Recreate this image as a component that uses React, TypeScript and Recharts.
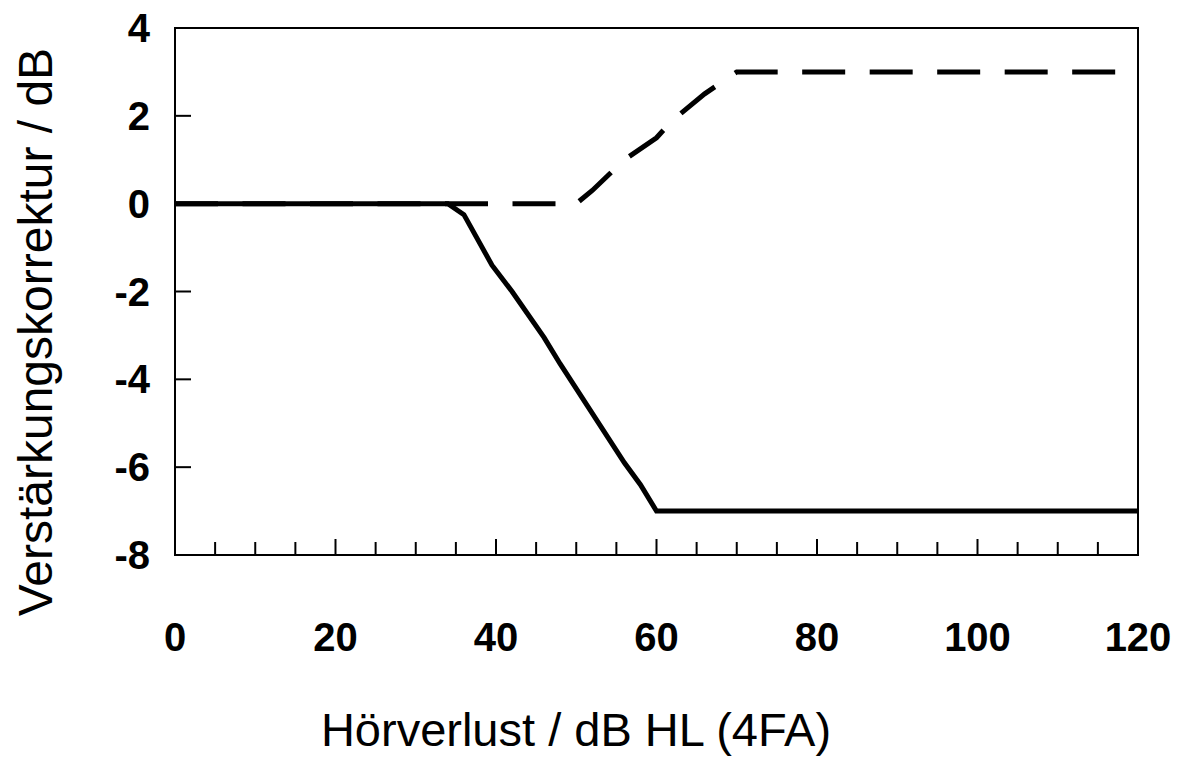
import React from 'react';
import { LineChart, Line, XAxis, YAxis, ReferenceArea, Label } from 'recharts';

// Solid curve (Verstärkungskorrektur, negative branch)
const solidX = [0, 34, 36, 39.5, 42, 46, 48, 56, 58, 60, 120];
const solidY = [0, 0, -0.25, -1.4, -2.0, -3.05, -3.65, -5.9, -6.4, -7, -7];

// Dashed curve (positive branch)
const dashedX = [0, 50, 52, 56, 60, 62, 66, 70, 120];
const dashedY = [0, 0, 0.3, 1.0, 1.5, 1.9, 2.5, 3, 3];

const xTicks = [0, 5, 10, 15, 20, 25, 30, 35, 40, 45, 50, 55, 60, 65, 70, 75, 80, 85, 90, 95, 100, 105, 110, 115, 120];
const xLabelTicks = [0, 20, 40, 60, 80, 100, 120];
const yTicks = [-8, -6, -4, -2, 0, 2, 4];

const xTitle = 'Hörverlust / dB HL (4FA)';
const yTitle = 'Verstärkungskorrektur / dB';

const solidData = solidX.map((x, i) => ({ x, y: solidY[i] }));
const dashedData = dashedX.map((x, i) => ({ x, y: dashedY[i] }));

const FONT = '"Liberation Sans", Arial, Helvetica, sans-serif';

const XTick = (props: any) => {
  const { x, y, payload } = props;
  const v = payload.value;
  const major = xLabelTicks.includes(v);
  return (
    <g>
      <line x1={x} x2={x} y1={y} y2={y - (major ? 16 : 13)} stroke="#000" strokeWidth={2} />
      {major && (
        <text x={x} y={y + 96} textAnchor="middle" fontSize={40} fontWeight="bold" fontFamily={FONT} fill="#000">
          {v}
        </text>
      )}
    </g>
  );
};

const YTick = (props: any) => {
  const { x, y, payload } = props;
  return (
    <g>
      <line x1={x} x2={x + 16} y1={y} y2={y} stroke="#000" strokeWidth={2} />
      <text x={x - 25} y={y + 14} textAnchor="end" fontSize={40} fontWeight="bold" fontFamily={FONT} fill="#000">
        {payload.value}
      </text>
    </g>
  );
};

const renderXTitle = () => (
  <text x={576} y={746} textAnchor="middle" fontSize={47} fontFamily={FONT} fill="#000">
    {xTitle}
  </text>
);

const renderYTitle = () => (
  <text
    x={52}
    y={332}
    textAnchor="middle"
    fontSize={48}
    fontFamily={FONT}
    fill="#000"
    transform="rotate(-90, 52, 332)"
  >
    {yTitle}
  </text>
);

export default function App() {
  return (
    <div style={{ position: 'absolute', left: 0, top: 0, background: '#fff' }}>
      <LineChart width={1182} height={758} margin={{ top: 28, right: 44, left: 0, bottom: 0 }}>
        <XAxis
          type="number"
          dataKey="x"
          domain={[0, 120]}
          ticks={xTicks}
          interval={0}
          tickSize={0}
          tickMargin={0}
          tickLine={false}
          tick={<XTick />}
          height={203}
          axisLine={{ stroke: '#000', strokeWidth: 2 }}
          allowDataOverflow
        >
          <Label content={renderXTitle} />
        </XAxis>
        <YAxis
          type="number"
          domain={[-8, 4]}
          ticks={yTicks}
          interval={0}
          tickSize={0}
          tickMargin={0}
          tickLine={false}
          tick={<YTick />}
          width={175}
          axisLine={{ stroke: '#000', strokeWidth: 2 }}
          allowDataOverflow
        >
          <Label content={renderYTitle} />
        </YAxis>
        <ReferenceArea x1={0} x2={120} y1={-8} y2={4} fill="none" stroke="#000" strokeWidth={2} fillOpacity={0} />
        <Line
          data={dashedData}
          dataKey="y"
          type="linear"
          stroke="#000"
          strokeWidth={5}
          strokeDasharray="43 24.5"
          dot={false}
          activeDot={false}
          isAnimationActive={false}
        />
        <Line
          data={solidData}
          dataKey="y"
          type="linear"
          stroke="#000"
          strokeWidth={5}
          dot={false}
          activeDot={false}
          isAnimationActive={false}
        />
      </LineChart>
    </div>
  );
}
